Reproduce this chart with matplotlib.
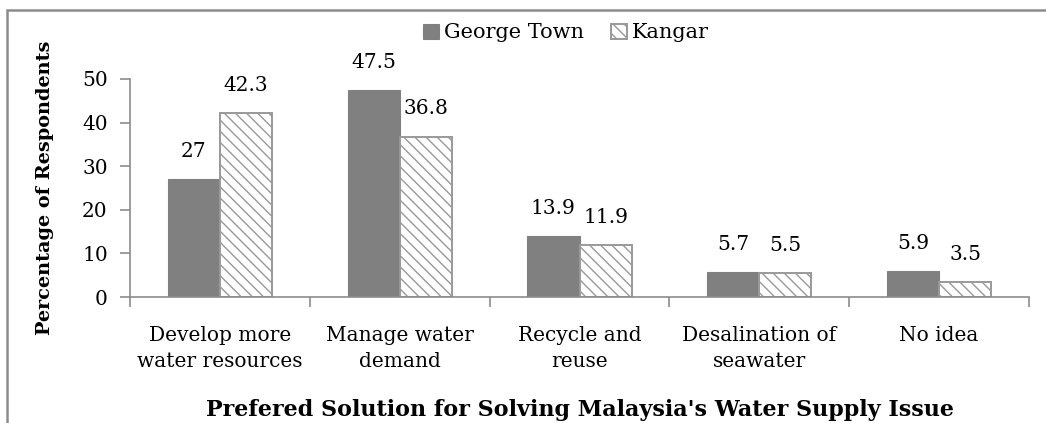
import matplotlib
matplotlib.use("Agg")
import matplotlib.pyplot as plt
from matplotlib.patches import Rectangle
import numpy as np

categories = ["Develop more\nwater resources", "Manage water\ndemand", "Recycle and\nreuse",
              "Desalination of\nseawater", "No idea"]
george_town = [27, 47.5, 13.9, 5.7, 5.9]
kangar = [42.3, 36.8, 11.9, 5.5, 3.5]
george_labels = ["27", "47.5", "13.9", "5.7", "5.9"]
kangar_labels = ["42.3", "36.8", "11.9", "5.5", "3.5"]
yticks = [0, 10, 20, 30, 40, 50]

plt.rcParams['font.family'] = ['DejaVu Serif']
plt.rcParams['hatch.linewidth'] = 1.0

W, H = 1046, 423
fig = plt.figure(figsize=(W/100, H/100), dpi=100)
ax = fig.add_axes([130/W, 1-297/H, (1029-130)/W, (297-79)/H])

gray = '#808080'
edge = '#8c8c8c'
x = np.arange(len(categories))
bw = 0.29
b1 = ax.bar(x - bw/2, george_town, bw, color=gray, edgecolor=gray, linewidth=0.8, label='George Town')
b2 = ax.bar(x + bw/2, kangar, bw, color='white', edgecolor='#999999', hatch='\\\\\\', linewidth=1.4, label='Kangar')

fs = 14.5
for rect, lab in zip(b1, george_labels):
    ax.annotate(lab, (rect.get_x() + rect.get_width()/2, rect.get_height()),
                xytext=(0, 13), textcoords='offset points', ha='center', va='bottom', fontsize=fs)
for rect, lab in zip(b2, kangar_labels):
    ax.annotate(lab, (rect.get_x() + rect.get_width()/2, rect.get_height()),
                xytext=(0, 13), textcoords='offset points', ha='center', va='bottom', fontsize=fs)

ax.set_xlim(-0.5, len(categories) - 0.5)
ax.set_ylim(0, 50)
ax.set_yticks(yticks)
ax.set_yticklabels([str(v) for v in yticks], fontsize=fs)
ax.set_xticks(x)
ax.set_xticklabels(categories, fontsize=fs, linespacing=1.45)
ax.tick_params(axis='x', length=0, pad=21)
ax.set_xticks(np.arange(-0.5, len(categories)), minor=True)
ax.tick_params(axis='x', which='minor', length=7, color=edge, width=1.2, direction='out')
ax.tick_params(axis='y', length=7, color=edge, width=1.2, direction='out', pad=9)
for s in ['top', 'right']:
    ax.spines[s].set_visible(False)
for s in ['left', 'bottom']:
    ax.spines[s].set_color(edge)
    ax.spines[s].set_linewidth(1.2)

ax.set_ylabel("Percentage of Respondents", fontsize=13.9, fontweight='bold', labelpad=20)
ax.set_xlabel("Prefered Solution for Solving Malaysia's Water Supply Issue", fontsize=16,
              fontweight='bold', labelpad=20)

fig.legend(loc='center', bbox_to_anchor=(566/W, 1-33/H), ncol=2, frameon=False, fontsize=15,
           handlelength=0.75, handleheight=0.75, handletextpad=0.25, columnspacing=1.3)

fig.patches.append(Rectangle((7/W, -0.2), 1.5, 1.2 - 10/H, transform=fig.transFigure,
                             fill=False, edgecolor='#8c8c8c', linewidth=1.8))
fig.savefig("out.png", dpi=100)
